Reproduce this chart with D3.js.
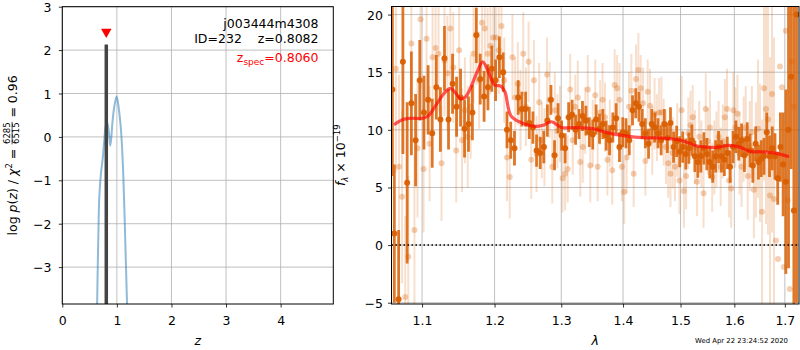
<!DOCTYPE html>
<html><head><meta charset="utf-8">
<script src="https://cdn.jsdelivr.net/npm/d3@7"></script>
<style>
body{margin:0;background:#fff}
svg{font-family:"DejaVu Sans",sans-serif}
text{white-space:pre}
</style></head><body>
<svg id="c" width="800" height="350"></svg>
<script>
// ---------------- data ----------------
const zTicks = [0, 1, 2, 3, 4];
const logpTicks = [-3, -2, -1, 0, 1, 2, 3];
const lamTicks = [1.1, 1.2, 1.3, 1.4, 1.5, 1.6, 1.7];
const fluxTicks = [-5, 0, 5, 10, 15, 20];

const pzZ = [0.630, 0.645, 0.660, 0.678, 0.709, 0.740, 0.769, 0.795, 0.824, 0.855, 0.878, 0.895, 0.920, 0.953, 0.996, 1.038, 1.075, 1.106, 1.136, 1.160, 1.185, 1.200];
const pzLogp = [-4.6, -3.3, -2.3, -1.38, -0.83, -0.50, -0.08, 0.24, 0.32, 0.09, -0.20, -0.05, 0.35, 0.70, 0.93, 0.62, 0.16, -0.53, -1.61, -2.69, -3.80, -4.5];
const zBest = 0.806, zBarTop = 2.13;
const zSpec = 0.806, zSpecMarkerY = 2.42;
const titleLines = ["j003444m4308", "ID=232    z=0.8082"];
const zSpecLabel = "0.8060";

const darkLam = [1.0615,1.0640,1.0695,1.0750,1.0805,1.0860,1.0915,1.0970,1.1025,1.1080,1.1135,1.1190,1.1245,1.1300,1.1355,1.1410,1.1465,1.1520,1.1575,1.1630,1.1685,1.1740,1.1795,1.1850,1.1905,1.1960,1.2015,1.2070,1.2125,1.2180,1.2235,1.2290,1.2345,1.2400,1.2455,1.2510,1.2565,1.2620,1.2675,1.2730,1.2785,1.2840,1.2895,1.2950,1.3005,1.3060,1.3115,1.3170,1.3225,1.3280,1.3335,1.3390,1.3445,1.3500,1.3555,1.3610,1.3665,1.3720,1.3775,1.3830,1.3885,1.3940,1.3995,1.4050,1.4105,1.4160,1.4215,1.4270,1.4325,1.4380,1.4435,1.4490,1.4545,1.4600,1.4655,1.4710,1.4765,1.4820,1.4875,1.4930,1.4985,1.5040,1.5095,1.5150,1.5205,1.5260,1.5315,1.5370,1.5425,1.5480,1.5535,1.5590,1.5645,1.5700,1.5755,1.5810,1.5865,1.5920,1.5975,1.6030,1.6085,1.6140,1.6195,1.6250,1.6305,1.6360,1.6415,1.6470,1.6525,1.6580,1.6635,1.6690,1.6745,1.6800,1.6855,1.6910,1.6965,1.7020,1.7075,1.7130,1.7185,1.7240];
const darkFlux = [13.5,1.0,-4.7,15.9,5.4,12.3,9.1,14.3,11.5,12.6,9.7,13.7,10.9,16.2,10.9,14.0,12.0,12.8,10.1,10.5,11.5,18.2,14.4,12.9,13.7,15.3,14.3,16.3,15.0,10.0,9.1,8.4,12.8,11.8,11.8,10.6,10.2,8.2,8.0,8.5,10.8,12.6,7.8,11.0,9.5,8.4,11.1,11.3,10.0,10.5,11.2,10.8,9.8,9.6,10.9,10.1,10.5,9.5,9.1,10.2,11.0,8.5,9.8,9.7,9.1,11.7,12.3,12.0,10.5,9.7,8.8,10.5,10.2,9.7,9.1,10.5,9.3,10.6,8.5,9.0,8.1,8.5,7.9,8.4,9.1,7.7,7.2,7.7,8.4,7.9,7.2,6.8,7.7,8.5,7.7,7.4,8.0,6.8,8.5,9.4,8.8,9.1,7.8,9.2,8.2,6.9,8.8,7.2,7.5,7.7,9.8,7.7,8.4,7.7,5.8,8.5,7.0,5.5,10.0,14.6,3.0,20.0];
const darkErr = [7.5,6.0,6.0,8.0,7.0,4.5,4.0,3.5,3.2,3.0,3.0,2.8,2.8,2.8,2.6,2.6,2.6,2.5,2.5,2.4,2.4,2.4,2.2,2.2,2.0,2.0,1.8,1.8,1.7,1.6,1.6,1.5,1.5,1.5,1.5,1.4,1.4,1.4,1.4,1.4,1.4,1.3,1.3,1.3,1.3,1.3,1.3,1.3,1.3,1.3,1.3,1.3,1.3,1.3,1.3,1.3,1.3,1.3,1.3,1.3,1.3,1.3,1.3,1.3,1.3,1.3,1.3,1.3,1.3,1.3,1.3,1.3,1.3,1.3,1.3,1.3,1.3,1.35,1.35,1.35,1.35,1.35,1.35,1.35,1.35,1.35,1.35,1.4,1.4,1.4,1.4,1.4,1.4,1.4,1.4,1.4,1.4,1.4,1.4,1.4,1.45,1.45,1.45,1.45,1.45,1.5,1.5,1.5,1.6,1.6,1.7,1.8,1.9,2.0,2.3,3.0,4.5,8.0,12.0,8.0,30.0,25.0];

const lightLam = [1.066,1.070,1.074,1.078,1.082,1.086,1.090,1.094,1.098,1.102,1.106,1.110,1.114,1.118,1.122,1.126,1.130,1.134,1.138,1.142,1.146,1.150,1.154,1.158,1.162,1.166,1.170,1.174,1.178,1.182,1.186,1.190,1.194,1.198,1.202,1.206,1.210,1.214,1.218,1.222,1.226,1.230,1.234,1.238,1.242,1.246,1.250,1.254,1.258,1.262,1.266,1.270,1.274,1.278,1.282,1.286,1.290,1.294,1.298,1.302,1.306,1.310,1.314,1.318,1.322,1.326,1.330,1.334,1.338,1.342,1.346,1.350,1.354,1.358,1.362,1.366,1.370,1.374,1.378,1.382,1.386,1.390,1.394,1.398,1.402,1.406,1.410,1.414,1.418,1.422,1.426,1.430,1.434,1.438,1.442,1.446,1.450,1.454,1.458,1.462,1.466,1.470,1.474,1.478,1.482,1.486,1.490,1.494,1.498,1.502,1.506,1.510,1.514,1.518,1.522,1.526,1.530,1.534,1.538,1.542,1.546,1.550,1.554,1.558,1.562,1.566,1.570,1.574,1.578,1.582,1.586,1.590,1.594,1.598,1.602,1.606,1.610,1.614,1.618,1.622,1.626,1.630,1.634,1.638,1.642,1.646,1.650,1.654,1.658,1.662,1.666,1.670,1.674,1.678,1.682,1.686,1.690,1.694,1.698,1.702,1.706,1.710,1.714,1.718];
const lightFlux = [15.3,6.8,4.2,-4.5,-1.0,17.5,1.3,8.4,19.6,6.6,17.9,8.8,16.3,17.1,16.6,7.1,16.0,14.9,18.8,15.4,8.2,16.9,9.1,11.7,9.4,12.0,16.6,18.3,14.3,19.3,18.8,16.6,17.3,18.0,18.0,16.9,19.0,14.3,7.6,5.9,16.3,12.8,14.0,11.7,16.6,12.0,15.9,7.4,14.3,7.9,12.4,9.1,8.5,14.8,12.6,6.8,11.7,9.9,10.5,5.8,6.2,6.6,13.5,9.1,12.0,12.8,7.2,8.5,10.8,13.5,6.9,9.7,13.0,6.8,11.5,12.6,11.1,7.4,9.7,6.5,13.9,13.6,12.6,6.8,4.6,7.6,12.0,13.4,6.2,14.4,15.2,13.6,12.3,7.3,13.3,12.1,9.1,11.4,10.2,11.5,11.5,9.8,8.5,7.1,6.2,8.0,6.8,9.1,5.6,11.7,4.7,6.0,9.7,10.4,11.1,8.5,5.5,9.4,7.9,4.5,11.8,9.0,10.2,5.9,7.6,8.3,9.4,6.8,9.0,11.1,11.8,5.6,4.9,11.7,10.2,11.4,8.0,6.8,9.2,10.2,6.0,8.6,9.8,4.8,7.4,10.1,8.0,2.9,13.6,11.8,10.9,4.3,13.1,4.0,0.4,-1.2,15.5,13.7,-1.9,18.6,3.9,-3.8,15.9,12.0];
const lightErr = [9,8,7.5,7,7, 6.5,6.5,6,6,5.5,
 5.5,5,5.2,4.8,5,5,4.8,5,4.6,4.8,4.5,4.8,4.5,4.6,4.4,4.5,4.3,4.4,4.2,4.3,4.2,4.0,4.2,4.0,
 4.0,3.8,3.9,3.7,3.8,3.6,3.7,3.5,3.6,3.5,3.6,3.4,3.5,3.4,3.5,3.3,3.4,3.3,3.4,3.2,3.3,3.2,3.3,3.2,3.3,
 3.0,3.2,2.9,3.1,3.0,2.8,3.2,3.0,3.1,2.9,3.0,3.2,2.9,3.1,3.0,2.8,3.2,3.0,3.1,2.9,3.0,3.1,2.9,3.2,3.0,
 2.8,3.1,3.0,3.2,2.9,3.0,3.2,2.9,3.1,3.0,2.8,3.2,3.0,3.1,2.9,3.0,3.1,2.9,3.2,3.0,2.9,3.1,3.0,3.2,2.9,
 3.0,3.2,2.9,3.1,3.0,2.8,3.2,3.0,3.1,2.9,3.0,3.1,2.9,3.2,3.0,
 3.2,3.3,3.1,3.4,3.2,3.3,3.5,3.2,3.4,3.3,3.5,3.4,3.6,3.5,3.7,3.6,3.8,3.9,4.0,4.2,
 5,6,6,8,8,10,10,12,12,14];

const modelLam = [1.065,1.075,1.085,1.100,1.108,1.120,1.130,1.138,1.145,1.152,1.158,1.165,1.175,1.183,1.190,1.200,1.209,1.215,1.224,1.240,1.260,1.272,1.285,1.300,1.320,1.350,1.370,1.400,1.440,1.460,1.500,1.530,1.550,1.570,1.590,1.610,1.633,1.650,1.678,1.706];
const modelFlux = [10.5,10.9,11.0,11.0,11.2,12.3,13.2,13.6,13.2,12.7,12.8,13.5,15.0,15.9,15.2,13.9,13.8,13.3,11.2,10.6,10.3,10.4,10.7,10.2,10.2,10.1,9.8,9.5,9.3,9.3,9.1,8.6,8.5,8.5,8.65,8.5,8.1,8.1,8.0,7.7];

const timestamp = "Wed Apr 22 23:24:52 2020";

// ---------------- layout ----------------
const svg = d3.select('#c');
const LP = {l: 62.3, r: 333.3, t: 6.7, b: 304};
const RP = {l: 391.5, r: 799, t: 6.5, b: 304};
const zx = d3.scaleLinear().domain([0, 4.965]).range([LP.l, LP.r]);
const zy = d3.scaleLinear().domain([-3.85, 3]).range([LP.b, LP.t]);
const lx = d3.scaleLog().domain([1.0604, 1.7291]).range([RP.l, RP.r]);
const ly = d3.scaleLinear().domain([-5.11, 20.7]).range([RP.b, RP.t]);

const FS = 12.5;
const ORANGE = '#d95f02';
const GRID = '#b0b0b0';

const defs = svg.append('defs');
function clip(id, P) {
  defs.append('clipPath').attr('id', id).append('rect')
    .attr('x', P.l).attr('y', P.t).attr('width', P.r - P.l).attr('height', P.b - P.t);
}
clip('clipL', LP); clip('clipR', RP);

function gridLines(P, xs, xScale, ys, yScale) {
  const g = svg.append('g').attr('stroke', GRID).attr('stroke-width', 0.8);
  g.selectAll('.gx').data(xs).join('line')
    .attr('x1', d => xScale(d)).attr('x2', d => xScale(d)).attr('y1', P.t).attr('y2', P.b);
  g.selectAll('.gy').data(ys).join('line')
    .attr('y1', d => yScale(d)).attr('y2', d => yScale(d)).attr('x1', P.l).attr('x2', P.r);
}
gridLines(LP, zTicks, zx, logpTicks, zy);
gridLines(RP, lamTicks, lx, fluxTicks, ly);

// ---------------- left panel ----------------
const gL = svg.append('g').attr('clip-path', 'url(#clipL)');
gL.append('path').datum(pzZ.map((z, i) => [z, pzLogp[i]]))
  .attr('fill', 'none').attr('stroke', '#1f77b4').attr('stroke-opacity', 0.5).attr('stroke-width', 2)
  .attr('d', d3.line().x(d => zx(d[0])).y(d => zy(d[1])).curve(d3.curveCatmullRom));
gL.append('line')
  .attr('x1', zx(zBest)).attr('x2', zx(zBest)).attr('y1', zy(-3.85)).attr('y2', zy(zBarTop))
  .attr('stroke', '#444').attr('stroke-width', 3.5);
svg.append('path')
  .attr('d', d3.symbol().type(d3.symbolTriangle).size(48)())
  .attr('transform', `translate(${zx(zSpec)},${zy(zSpecMarkerY)}) rotate(180)`)
  .attr('fill', 'red');

// title text
const tx = 318.5;
svg.append('text').attr('x', tx).attr('y', 28.4).attr('text-anchor', 'end').attr('font-size', FS).text(titleLines[0]);
svg.append('text').attr('x', tx).attr('y', 43.4).attr('text-anchor', 'end').attr('font-size', FS).text(titleLines[1]);
const zs = svg.append('text').attr('x', tx).attr('y', 62.3).attr('text-anchor', 'end').attr('font-size', FS).attr('fill', 'red');
zs.append('tspan').text('z');
zs.append('tspan').attr('font-size', 9).attr('dy', 2.5).text('spec');
zs.append('tspan').attr('dy', -2.5).text('=' + zSpecLabel);

// ---------------- right panel ----------------
const gR = svg.append('g').attr('clip-path', 'url(#clipR)');
const light = lightLam.map((l, i) => ({l, f: lightFlux[i], e: lightErr[i]}));
const dark = darkLam.map((l, i) => ({l, f: darkFlux[i], e: darkErr[i]}));

gR.append('g').selectAll('line').data(light).join('line')
  .attr('x1', d => lx(d.l)).attr('x2', d => lx(d.l))
  .attr('y1', d => ly(d.f - d.e)).attr('y2', d => ly(d.f + d.e))
  .attr('stroke', ORANGE).attr('stroke-opacity', 0.2).attr('stroke-width', 2);
gR.append('g').selectAll('circle').data(light).join('circle')
  .attr('cx', d => lx(d.l)).attr('cy', d => ly(d.f)).attr('r', 3)
  .attr('fill', ORANGE).attr('fill-opacity', 0.3);

gR.append('g').selectAll('line').data(dark).join('line')
  .attr('x1', d => lx(d.l)).attr('x2', d => lx(d.l))
  .attr('y1', d => ly(d.f - d.e)).attr('y2', d => ly(d.f + d.e))
  .attr('stroke', ORANGE).attr('stroke-opacity', 0.85).attr('stroke-width', 2.8);
gR.append('g').selectAll('circle').data(dark).join('circle')
  .attr('cx', d => lx(d.l)).attr('cy', d => ly(d.f)).attr('r', 3)
  .attr('fill', ORANGE).attr('fill-opacity', 0.95);

gR.append('path').datum(modelLam.map((l, i) => [l, modelFlux[i]]))
  .attr('fill', 'none').attr('stroke', 'red').attr('stroke-opacity', 0.65).attr('stroke-width', 3.2)
  .attr('stroke-linejoin', 'round').attr('stroke-linecap', 'round')
  .attr('d', d3.line().x(d => lx(d[0])).y(d => ly(d[1])).curve(d3.curveCatmullRom));

gR.append('line').attr('x1', RP.l).attr('x2', RP.r).attr('y1', ly(0)).attr('y2', ly(0))
  .attr('stroke', 'black').attr('stroke-width', 1.5).attr('stroke-dasharray', '1.5,2.5');

// ---------------- axes ----------------
function styleAxis(g) {
  g.select('.domain').remove();
  g.selectAll('.tick line').attr('stroke', 'black').attr('stroke-width', 0.8);
  g.selectAll('.tick text').attr('font-size', FS).attr('font-family', '"DejaVu Sans",sans-serif').attr('fill', 'black');
}
function bottomAxis(scale, ticks, fmt, P) {
  const g = svg.append('g').attr('transform', `translate(0,${P.b})`)
    .call(d3.axisBottom(scale).tickValues(ticks).tickSize(3.5).tickFormat(fmt));
  styleAxis(g);
  g.selectAll('.tick text').attr('y', 21).attr('dy', 0);
}
function leftAxis(scale, ticks, fmt, P, pad) {
  const g = svg.append('g').attr('transform', `translate(${P.l},0)`)
    .call(d3.axisLeft(scale).tickValues(ticks).tickSize(3.5).tickPadding(pad).tickFormat(fmt));
  styleAxis(g);
  g.selectAll('.tick text').attr('dy', '0.36em');
}
const intFmt = d => d3.format('d')(d);
bottomAxis(zx, zTicks, intFmt, LP);
leftAxis(zy, logpTicks, intFmt, LP, 7.3);
bottomAxis(lx, lamTicks, d3.format('.1f'), RP);
leftAxis(ly, fluxTicks, intFmt, RP, 5);

// frames
[LP, RP].forEach(P => svg.append('rect').attr('x', P.l).attr('y', P.t)
  .attr('width', P.r - P.l).attr('height', P.b - P.t)
  .attr('fill', 'none').attr('stroke', 'black').attr('stroke-width', 1));

// axis labels
svg.append('text').attr('x', (LP.l + LP.r) / 2).attr('y', 345).attr('text-anchor', 'middle')
  .attr('font-size', FS).attr('font-style', 'italic').text('z');
svg.append('text').attr('x', (RP.l + RP.r) / 2).attr('y', 345).attr('text-anchor', 'middle')
  .attr('font-size', FS).attr('font-style', 'italic').text('λ');

// left y label with fraction
(function () {
  const g = svg.append('g').attr('transform', `translate(17,${(LP.t + LP.b) / 2}) rotate(-90)`);
  const inner = g.append('g');
  const t1 = inner.append('text').attr('font-size', FS).attr('x', 0).attr('y', 0);
  t1.append('tspan').text('log ');
  t1.append('tspan').attr('font-style', 'italic').text('p');
  t1.append('tspan').text('(');
  t1.append('tspan').attr('font-style', 'italic').text('z');
  t1.append('tspan').text(') / ');
  t1.append('tspan').attr('font-style', 'italic').text('χ');
  t1.append('tspan').attr('font-size', 8.5).attr('dy', -5).text('2');
  t1.append('tspan').attr('dy', 5).text(' = ');
  const w1 = t1.node().getComputedTextLength();
  const num = inner.append('text').attr('font-size', 8.5).attr('text-anchor', 'middle').attr('y', -7).text('6285');
  const den = inner.append('text').attr('font-size', 8.5).attr('text-anchor', 'middle').attr('y', 1.8).text('6515');
  const wf = Math.max(num.node().getComputedTextLength(), den.node().getComputedTextLength()) + 1.5;
  const cx = w1 + wf / 2;
  num.attr('x', cx); den.attr('x', cx);
  inner.append('line').attr('x1', w1 + 0.3).attr('x2', w1 + wf - 0.3).attr('y1', -4.9).attr('y2', -4.9)
    .attr('stroke', 'black').attr('stroke-width', 0.7);
  const t3 = inner.append('text').attr('font-size', FS).attr('x', w1 + wf).attr('y', 0).text(' = 0.96');
  const w3 = t3.node().getComputedTextLength();
  inner.attr('transform', `translate(${-(w1 + wf + w3) / 2},0)`);
})();

// right y label
(function () {
  const t = svg.append('text').attr('transform', `translate(345,${(RP.t + RP.b) / 2}) rotate(-90)`)
    .attr('text-anchor', 'middle').attr('font-size', FS);
  t.append('tspan').attr('font-style', 'italic').text('f');
  t.append('tspan').attr('font-style', 'italic').attr('font-size', 8.5).attr('dy', 2.5).text('λ');
  t.append('tspan').attr('dy', -2.5).text(' × 10');
  t.append('tspan').attr('font-size', 8.5).attr('dy', -5).text('−19');
})();

// timestamp
svg.append('text').attr('x', 788).attr('y', 342.5).attr('text-anchor', 'end')
  .attr('font-size', 6.9).text(timestamp);
</script>
</body></html>
